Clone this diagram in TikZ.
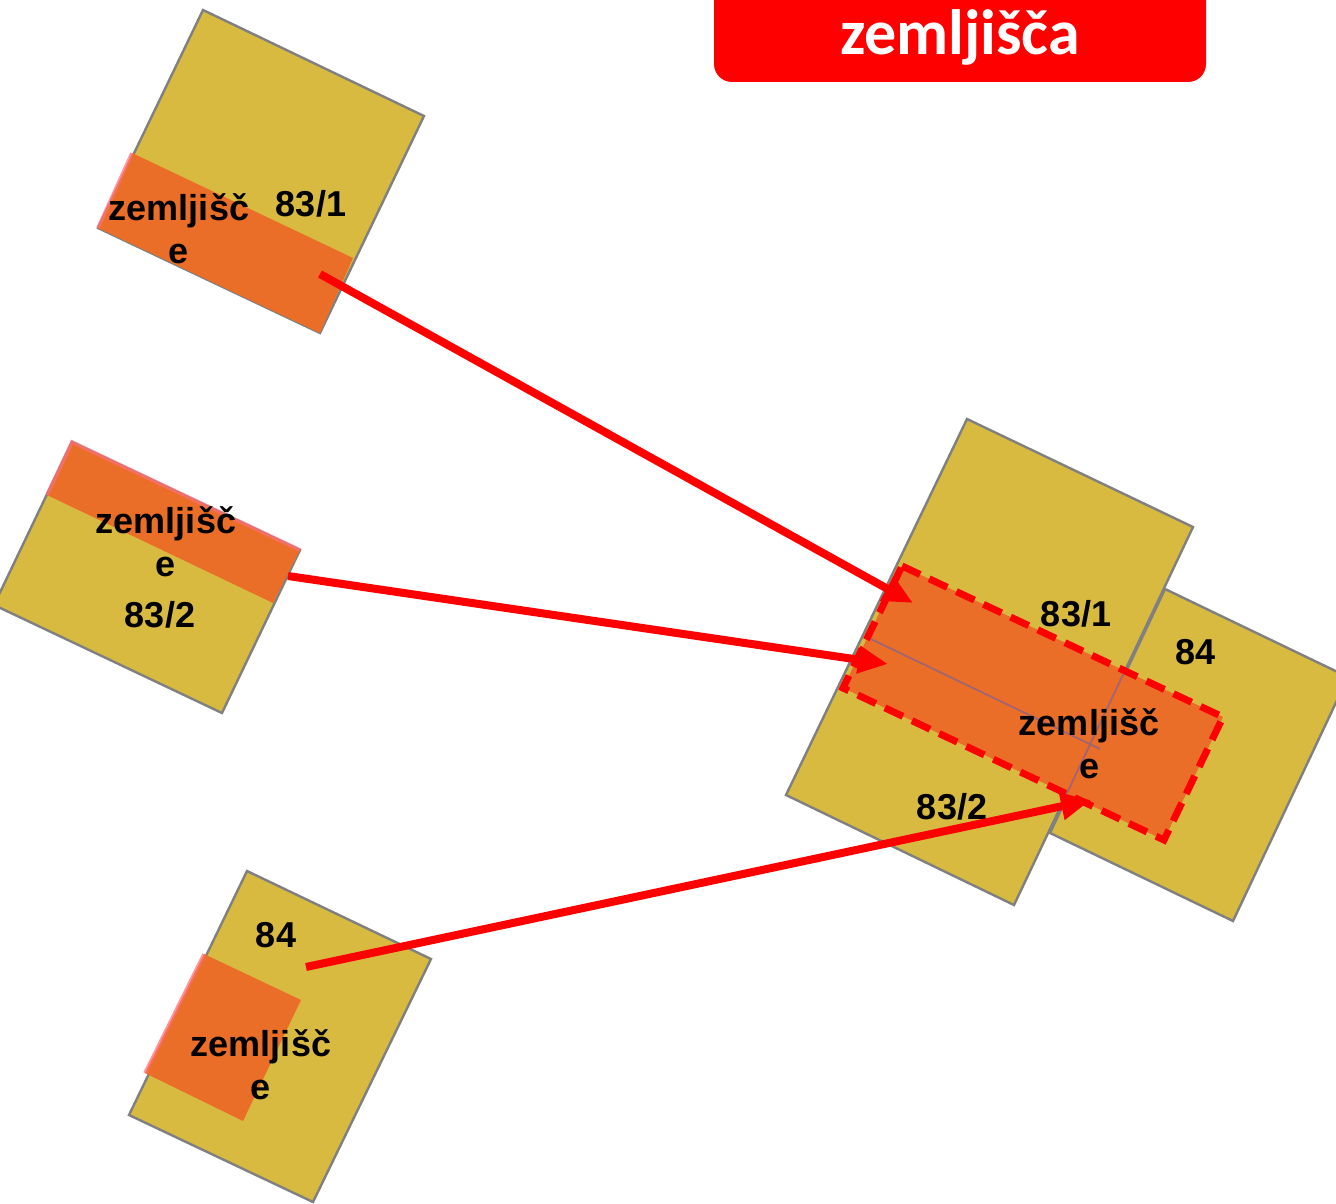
\documentclass[tikz,border=0pt]{standalone}
\usepackage{fontspec}
\setmainfont{Liberation Sans}
\newfontfamily\titlefont{Carlito}
\usetikzlibrary{arrows.meta}
\definecolor{parcel}{RGB}{217,186,64}
\definecolor{zem}{RGB}{234,110,39}
\definecolor{edgegray}{RGB}{128,128,128}
\definecolor{pinkedge}{RGB}{255,110,120}
\definecolor{seam}{RGB}{160,100,115}
\begin{document}
\begin{tikzpicture}[x=0.5pt,y=-0.5pt,
  parcelbox/.style={fill=parcel,draw=edgegray,line width=1.2pt,line join=miter},
  zemfill/.style={fill=zem},
  zemedge/.style={draw=pinkedge,draw opacity=0.7,line width=1.8pt},
  lbl/.style={font=\bfseries\fontsize{18}{21.5}\selectfont,inner sep=0pt,align=center},
  arrowline/.style={draw=red,line width=4pt,-{Triangle[length=15pt,width=13pt]}},
  dashedzone/.style={draw=red,line width=3.5pt,dash pattern=on 10pt off 5pt},
  seamline/.style={draw=seam,line width=0.9pt},
  titlebox/.style={fill=red,rounded corners=9pt}
]
\useasboundingbox (0,0) rectangle (1336,1203);

% title
\fill[titlebox] (714,-40) rectangle (1206,82);
\node (title) [anchor=base,text=white,inner sep=0pt,font=\titlefont\bfseries\fontsize{32}{38}\selectfont] at (960,55) {zemljišča};

% parcel A (83/1)
\draw[parcelbox] (203,10) -- (424,116) -- (320,333) -- (98,228) -- cycle;
\fill[zemfill] (132,153) -- (353,258) -- (320,333) -- (98,228) -- cycle;
\draw[zemedge] (132,153) -- (98,228);

% parcel B (83/2)
\draw[parcelbox] (72,442) -- (300,550) -- (222,713) -- (-6,605) -- cycle;
\fill[zemfill] (72,442) -- (300,550) -- (273,603) -- (47,495) -- cycle;
\draw[zemedge] (47,495) -- (72,442) -- (300,550);

% parcel C (84)
\draw[parcelbox] (247,871) -- (431,959) -- (313,1202) -- (129,1115) -- cycle;
\fill[zemfill] (204,954) -- (301,1000) -- (243,1121) -- (145,1073) -- cycle;
\draw[zemedge] (204,954) -- (145,1073);

% composite
\draw[parcelbox] (967,419) -- (1193,527) -- (1014,905) -- (786,795) -- cycle;
\draw[parcelbox] (1165,589) -- (1348,677) -- (1233,921) -- (1050,833) -- cycle;
\fill[zemfill] (902,566) -- (1223,717) -- (1164,840) -- (843,688) -- cycle;
\begin{scope}
  \clip (902,566) -- (1223,717) -- (1164,840) -- (843,688) -- cycle;
  \draw[seamline] (850,629) -- (1100,749);
  \draw[seamline] (1193,527) -- (1014,905);
\end{scope}
\draw[dashedzone] (902,566) -- (1223,717) -- (1164,840) -- (843,688) -- cycle;

% labels
\node[lbl] (tA) at (179,229) {zemljišč\\e};
\node[lbl,anchor=base] (nA) at (311,217) {83/1};
\node[lbl] (tB) at (166,542) {zemljišč\\e};
\node[lbl,anchor=base] (nB) at (160,627) {83/2};
\node[lbl,anchor=base] (nC) at (276,947) {84};
\node[lbl] (tC) at (261,1065) {zemljišč\\e};
\node[lbl,anchor=base] (n831) at (1076,626) {83/1};
\node[lbl,anchor=base] (n84) at (1195,664) {84};
\node[lbl] (tR) at (1089,744) {zemljišč\\e};
\node[lbl,anchor=base] (n832) at (952,819) {83/2};

% arrows
\coordinate (a1s) at (320,274);
\coordinate (a1e) at (913,603);
\coordinate (a2s) at (288,576);
\coordinate (a2e) at (888,664);
\coordinate (a3s) at (306,967);
\coordinate (a3e) at (1091,800);
\draw[arrowline] (a1s) -- (a1e);
\draw[arrowline] (a2s) -- (a2e);
\draw[arrowline] (a3s) -- (a3e);
\end{tikzpicture}
\end{document}
